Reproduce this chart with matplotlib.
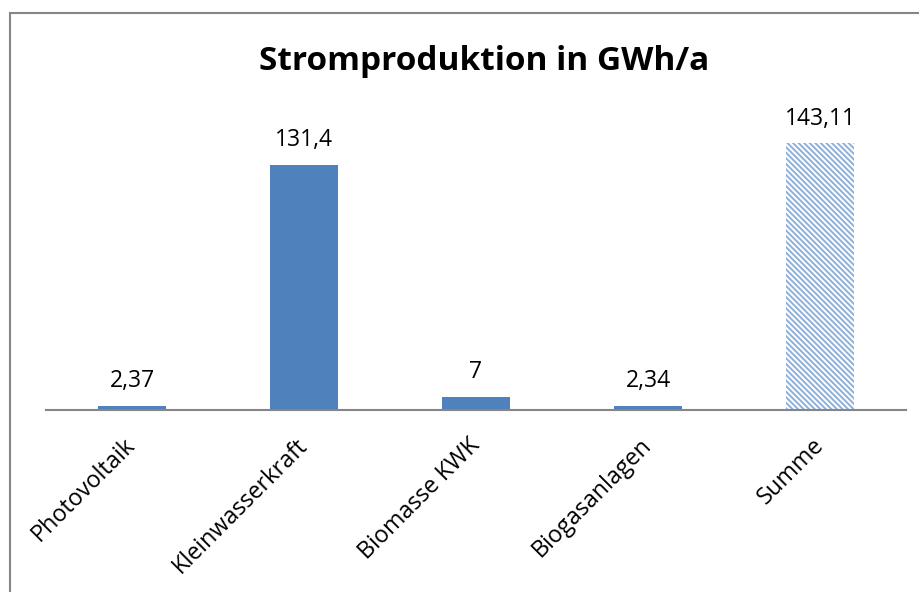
import matplotlib.pyplot as plt
from matplotlib.patches import Rectangle

kategorien = ['Photovoltaik', 'Kleinwasserkraft', 'Biomasse KWK', 'Biogasanlagen', 'Summe']
werte = [2.37, 131.4, 7, 2.34, 143.11]
beschriftung = ['2,37', '131,4', '7', '2,34', '143,11']

plt.rcParams['font.family'] = ['Open Sans', 'DejaVu Sans']
plt.rcParams['hatch.linewidth'] = 1.4

fig = plt.figure(figsize=(9.19, 5.92), dpi=100)
# Rahmen um das Diagramm
fig.patches.append(Rectangle((10/919, -0.01), 1.0, 1 - 13/592 + 0.01, transform=fig.transFigure,
                             fill=False, edgecolor='#868686', lw=1.5))
ax = fig.add_axes([46/919, 182/592, 860/919, 298.4/592])

farbe = '#4F81BD'
x = range(len(kategorien))
bars = ax.bar(x[:4], werte[:4], width=0.395, color=farbe)
summe = ax.bar([4], [werte[4]], width=0.395, color='white', edgecolor='#8DB0DA', hatch='\\\\\\\\\\\\', lw=0)
ax.set_xlim(-0.5, 4.5)
ax.set_ylim(0, 160)

for i, (w, t) in enumerate(zip(werte, beschriftung)):
    ax.annotate(t, (i, w), xytext=(0, 9), textcoords='offset points',
                ha='center', va='bottom', fontsize=16.5)

ax.set_xticks(list(x))
ax.set_xticklabels(kategorien, rotation=45, ha='right', va='center', rotation_mode='anchor', fontsize=16.8)
ax.tick_params(axis='x', length=0, pad=23)
ax.set_yticks([])
for s in ['top', 'right', 'left']:
    ax.spines[s].set_visible(False)
ax.spines['bottom'].set_color('#868686')
ax.spines['bottom'].set_linewidth(1.5)

fig.text(484/919, 1 - 61/592, 'Stromproduktion in GWh/a', ha='center', va='center',
         fontsize=24, fontweight='bold')

plt.savefig('out.png', dpi=100)
